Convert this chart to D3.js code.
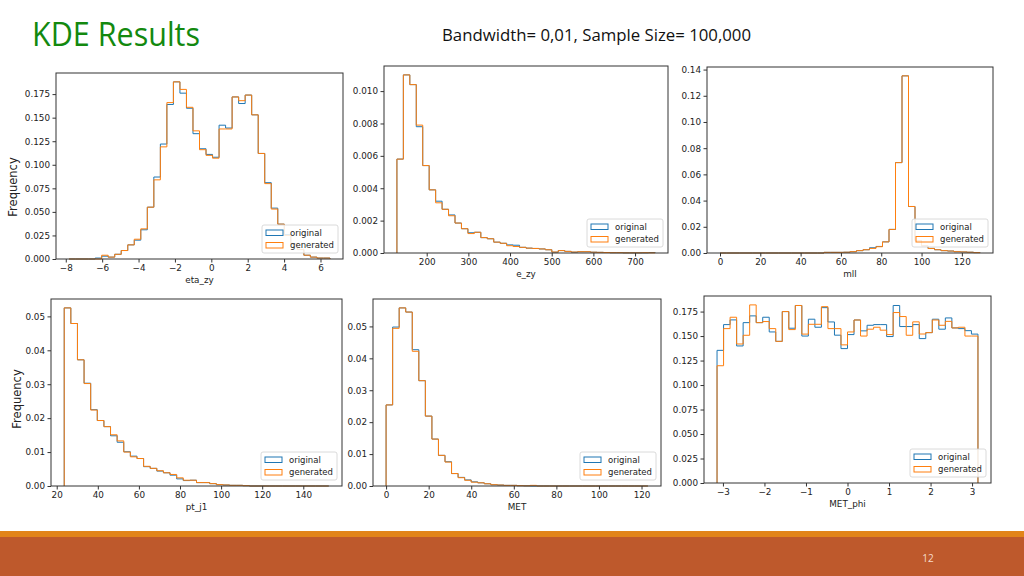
<!DOCTYPE html>
<html>
<head>
  <meta charset="utf-8">
  <title>KDE Results</title>
  <script src="https://cdn.jsdelivr.net/npm/d3@7"></script>
  <style>
    body { margin: 0; background: #fff; }
    svg text { font-family: "DejaVu Sans", sans-serif; }
  </style>
</head>
<body>
<div id="slide"></div>
<script>
// slide texts
var titleText = "KDE Results";
var subtitleText = "Bandwidth= 0,01, Sample Size= 100,000";
var pageNumber = "12";
var seriesNames = ["original", "generated"];
var yAxisTitle = "Frequency";

// eta_zy : 40 bins
var etaZyRange = [-7.82, 6.52];
var etaZyOriginal = [0, 0, 0, 0, 0.001, 0.003, 0.002, 0.005, 0.009, 0.015,
  0.020, 0.031, 0.055, 0.087, 0.122, 0.164, 0.188, 0.176, 0.160, 0.133,
  0.117, 0.111, 0.108, 0.142, 0.139, 0.172, 0.165, 0.174, 0.153, 0.112,
  0.081, 0.054, 0.037, 0.026, 0.016, 0.010, 0.004, 0.002, 0.001, 0.001];
var etaZyGenerated = [0, 0, 0, 0, 0, 0.004, 0.002, 0.005, 0.009, 0.015,
  0.021, 0.032, 0.055, 0.084, 0.119, 0.166, 0.188, 0.180, 0.161, 0.136,
  0.116, 0.110, 0.107, 0.138, 0.138, 0.172, 0.168, 0.174, 0.153, 0.112,
  0.080, 0.053, 0.037, 0.025, 0.016, 0.010, 0.004, 0.002, 0.001, 0.001];
var etaZyXTicks = [-8, -6, -4, -2, 0, 2, 4, 6];
var etaZyYTicks = [0, 0.025, 0.05, 0.075, 0.1, 0.125, 0.15, 0.175];

// e_zy
var eZyRange = [128.5, 748.1];
var eZyOriginal = [0.0058, 0.0110, 0.0104, 0.0078, 0.0054, 0.0039, 0.0032, 0.0027, 0.00235, 0.00185,
  0.0015, 0.00125, 0.00128, 0.00095, 0.00088, 0.00067, 0.0006, 0.0005, 0.00048, 0.00035,
  0.0003, 0.00028, 0.00025, 0.0002, 0.00005, 0.00015, 0.0001, 0.00005, 0.00008, 0.00008,
  0.00005, 0.00004, 0.00003, 0.00002, 0.00002, 0.00001, 0.00001, 0.00001, 0.00001, 0.00003];
var eZyGenerated = [0.0058, 0.0110, 0.0104, 0.0079, 0.0054, 0.0039, 0.0031, 0.0027, 0.0023, 0.00185,
  0.0015, 0.0012, 0.00128, 0.00095, 0.00088, 0.00067, 0.0006, 0.00045, 0.0004, 0.00035,
  0.0003, 0.00028, 0.00025, 0.0002, 0.00006, 0.00015, 0.0001, 0.00006, 0.00008, 0.00008,
  0.00005, 0.00004, 0.00003, 0.00002, 0.00002, 0.00001, 0.00001, 0.00001, 0.00002, 0.00001];
var eZyXTicks = [200, 300, 400, 500, 600, 700];
var eZyYTicks = [0, 0.002, 0.004, 0.006, 0.008, 0.010];

// mll
var mllRange = [0, 129];
var mllOriginal = [0, 0, 0, 0, 0, 0, 0, 0, 0, 0,
  0, 0, 0, 0, 0, 0, 0.0005, 0.0005, 0.0005, 0.0006,
  0.001, 0.0018, 0.0025, 0.004, 0.005, 0.0085, 0.018, 0.069, 0.1352, 0.0355,
  0.0095, 0.0055, 0.0035, 0.0025, 0.0018, 0.0015, 0.001, 0.0008, 0.0006, 0.0003];
var mllGenerated = [0, 0, 0, 0, 0, 0, 0, 0, 0, 0,
  0, 0, 0, 0, 0, 0, 0.0005, 0.0005, 0.0005, 0.0006,
  0.001, 0.0018, 0.0025, 0.0035, 0.0048, 0.0085, 0.018, 0.069, 0.1352, 0.0355,
  0.0095, 0.0055, 0.0035, 0.0025, 0.0018, 0.0015, 0.001, 0.0008, 0.0006, 0.0003];
var mllXTicks = [0, 20, 40, 60, 80, 100, 120];
var mllYTicks = [0, 0.02, 0.04, 0.06, 0.08, 0.10, 0.12, 0.14];

// pt_j1
var ptJ1Range = [23.66, 152.4];
var ptJ1Original = [0.0525, 0.0479, 0.0372, 0.0303, 0.0225, 0.0193, 0.0175, 0.0148, 0.0129, 0.0101,
  0.0088, 0.0081, 0.0057, 0.0052, 0.0044, 0.0039, 0.0032, 0.0021, 0.0016, 0.0017,
  0.001, 0.001, 0.0007, 0.0004, 0.0003, 0.0002, 0.0002, 0.0001, 0, 0,
  0, 0, 0, 0, 0, 0, 0, 0, 0, 0];
var ptJ1Generated = [0.0525, 0.0479, 0.0372, 0.0302, 0.0224, 0.0193, 0.0175, 0.0151, 0.0133, 0.0100,
  0.0086, 0.0081, 0.0058, 0.0052, 0.0045, 0.0039, 0.0034, 0.0024, 0.0017, 0.0017,
  0.001, 0.001, 0.0007, 0.0004, 0.0003, 0.0002, 0.0002, 0.0001, 0, 0,
  0, 0, 0, 0, 0, 0, 0, 0, 0, 0];
var ptJ1XTicks = [20, 40, 60, 80, 100, 120, 140];
var ptJ1YTicks = [0, 0.01, 0.02, 0.03, 0.04, 0.05];

// MET
var metRange = [0, 123];
var metOriginal = [0.0254, 0.0498, 0.0558, 0.0545, 0.0427, 0.0330, 0.0219, 0.0147, 0.0096, 0.0076,
  0.0039, 0.0027, 0.0019, 0.0013, 0.001, 0.0007, 0.0004, 0.0003, 0.0002, 0.0002,
  0.0001, 0.00005, 0, 0, 0, 0, 0, 0, 0, 0,
  0, 0, 0, 0, 0, 0, 0, 0, 0, 0];
var metGenerated = [0.0254, 0.0494, 0.0558, 0.0545, 0.0422, 0.0330, 0.0219, 0.0147, 0.0096, 0.0075,
  0.0039, 0.0026, 0.0018, 0.0012, 0.001, 0.0007, 0.0004, 0.0003, 0.0002, 0.0002,
  0.0001, 0.00005, 0.0002, 0, 0, 0, 0, 0, 0, 0,
  0, 0, 0, 0, 0, 0, 0, 0, 0, 0];
var metXTicks = [0, 20, 40, 60, 80, 100, 120];
var metYTicks = [0, 0.01, 0.02, 0.03, 0.04, 0.05];

// MET_phi
var metPhiRange = [-3.1416, 3.1416];
var metPhiOriginal = [0.1354, 0.1617, 0.1665, 0.1399, 0.1637, 0.1706, 0.1637, 0.1692, 0.1542, 0.1446,
  0.1750, 0.1580, 0.1812, 0.1500, 0.1672, 0.1590, 0.1790, 0.1644, 0.1509, 0.1372,
  0.1515, 0.1664, 0.1553, 0.1610, 0.1617, 0.1617, 0.1495, 0.1812, 0.1597, 0.1597,
  0.1617, 0.1474, 0.1535, 0.1672, 0.1570, 0.1685, 0.1583, 0.1576, 0.1555, 0.1520];
var metPhiGenerated = [0.1197, 0.1576, 0.1692, 0.1419, 0.1508, 0.1818, 0.1637, 0.1648, 0.1576, 0.1446,
  0.1750, 0.1566, 0.1812, 0.1520, 0.1620, 0.1620, 0.1800, 0.1576, 0.1576, 0.1410,
  0.1542, 0.1664, 0.1500, 0.1570, 0.1590, 0.1560, 0.1515, 0.1740, 0.1699, 0.1508,
  0.1645, 0.1521, 0.1535, 0.1664, 0.1610, 0.1650, 0.1583, 0.1590, 0.1500, 0.1500];
var metPhiXTicks = [-3, -2, -1, 0, 1, 2, 3];
var metPhiYTicks = [0, 0.025, 0.05, 0.075, 0.1, 0.125, 0.15, 0.175];

var colors = ["#1f77b4", "#ff7f0e"];

// panel layout: [left, top, right, bottom] of each axes box
var panels = [
  {xlabel: "eta_zy", range: etaZyRange, series: [etaZyOriginal, etaZyGenerated], xTicks: etaZyXTicks, yTicks: etaZyYTicks, fmt: ".3f", box: [56, 73, 343, 259], freq: [13, 187]},
  {xlabel: "e_zy", range: eZyRange, series: [eZyOriginal, eZyGenerated], xTicks: eZyXTicks, yTicks: eZyYTicks, fmt: ".3f", box: [384, 66, 668, 253]},
  {xlabel: "mll", range: mllRange, series: [mllOriginal, mllGenerated], xTicks: mllXTicks, yTicks: mllYTicks, fmt: ".2f", box: [707, 67, 993, 253]},
  {xlabel: "pt_j1", range: ptJ1Range, series: [ptJ1Original, ptJ1Generated], xTicks: ptJ1XTicks, yTicks: ptJ1YTicks, fmt: ".2f", box: [51, 299, 342, 486], freq: [17, 399]},
  {xlabel: "MET", range: metRange, series: [metOriginal, metGenerated], xTicks: metXTicks, yTicks: metYTicks, fmt: ".2f", box: [373, 299, 661, 486]},
  {xlabel: "MET_phi", range: metPhiRange, series: [metPhiOriginal, metPhiGenerated], xTicks: metPhiXTicks, yTicks: metPhiYTicks, fmt: ".3f", box: [704, 296, 991, 483]}
];

var svg = d3.select("#slide").append("svg")
  .attr("width", 1024)
  .attr("height", 576);

svg.append("rect").attr("width", 1024).attr("height", 576).attr("fill", "#fff");

// header
svg.append("text")
  .attr("x", 32).attr("y", 46)
  .attr("textLength", 168).attr("lengthAdjust", "spacingAndGlyphs")
  .style("font-family", "'Open Sans', sans-serif")
  .style("font-size", "32px")
  .attr("fill", "#13890f")
  .text(titleText);

svg.append("text")
  .attr("x", 442).attr("y", 41)
  .attr("textLength", 309).attr("lengthAdjust", "spacingAndGlyphs")
  .style("font-family", "'Open Sans', sans-serif")
  .style("font-size", "15.5px")
  .attr("fill", "#111")
  .text(subtitleText);

// footer
svg.append("rect").attr("x", 0).attr("y", 531).attr("width", 1024).attr("height", 6).attr("fill", "#e2841a");
svg.append("rect").attr("x", 0).attr("y", 537).attr("width", 1024).attr("height", 39).attr("fill", "#be592c");
svg.append("text")
  .attr("x", 928).attr("y", 562)
  .attr("text-anchor", "middle")
  .style("font-family", "'Open Sans', sans-serif")
  .style("font-size", "10px")
  .attr("fill", "#f7dccb")
  .text(pageNumber);

panels.forEach(function(p) {
  var b = p.box;
  var lo = p.range[0], hi = p.range[1];
  var pad = (hi - lo) * 0.05;
  var nBins = p.series[0].length;
  var width = (hi - lo) / nBins;
  var edges = d3.range(nBins + 1).map(function(i) { return lo + i * width; });
  var ymax = d3.max(p.series, function(s) { return d3.max(s); }) * 1.05;

  var x = d3.scaleLinear().domain([lo - pad, hi + pad]).range([b[0], b[2]]);
  var y = d3.scaleLinear().domain([0, ymax]).range([b[3], b[1]]);

  var g = svg.append("g");

  // histogram outlines (step)
  var line = d3.line().x(function(d) { return x(d[0]); }).y(function(d) { return y(d[1]); });
  p.series.forEach(function(vals, k) {
    var pts = [[edges[0], 0]];
    vals.forEach(function(v, i) {
      pts.push([edges[i], v]);
      pts.push([edges[i + 1], v]);
    });
    pts.push([edges[nBins], 0]);
    g.append("path")
      .attr("d", line(pts))
      .attr("fill", "none")
      .attr("stroke", colors[k])
      .attr("stroke-width", 1);
  });

  // axes
  var xa = g.append("g")
    .attr("transform", "translate(0," + b[3] + ")")
    .call(d3.axisBottom(x).tickValues(p.xTicks).tickFormat(d3.format("d")).tickSize(3.5).tickPadding(2.5));
  var ya = g.append("g")
    .attr("transform", "translate(" + b[0] + ",0)")
    .call(d3.axisLeft(y).tickValues(p.yTicks).tickFormat(d3.format(p.fmt)).tickSize(3.5).tickPadding(2.5));
  [xa, ya].forEach(function(a) {
    a.select(".domain").remove();
    a.selectAll("line").attr("stroke", "#333");
    a.selectAll("text")
      .style("font-family", "'DejaVu Sans', sans-serif")
      .style("font-size", "8.8px")
      .attr("fill", "#222");
  });

  // frame
  g.append("rect")
    .attr("x", b[0]).attr("y", b[1])
    .attr("width", b[2] - b[0]).attr("height", b[3] - b[1])
    .attr("fill", "none").attr("stroke", "#333").attr("stroke-width", 1);

  // x label
  g.append("text")
    .attr("x", (b[0] + b[2]) / 2).attr("y", b[3] + 24)
    .attr("text-anchor", "middle")
    .style("font-size", "8.8px")
    .attr("fill", "#222")
    .text(p.xlabel);

  if (p.freq) {
    g.append("text")
      .attr("transform", "translate(" + p.freq[0] + "," + p.freq[1] + ") rotate(-90)")
      .attr("text-anchor", "middle")
      .attr("dy", "0.35em")
      .style("font-size", "11.5px")
      .attr("fill", "#222")
      .text(yAxisTitle);
  }

  // legend
  var lw = 76, lh = 28;
  var lx = b[2] - 5 - lw, ly = b[3] - 6 - lh;
  var leg = g.append("g").attr("transform", "translate(" + lx + "," + ly + ")");
  leg.append("rect")
    .attr("width", lw).attr("height", lh).attr("rx", 2)
    .attr("fill", "#fff").attr("fill-opacity", 0.85)
    .attr("stroke", "#d0d0d0").attr("stroke-width", 0.8);
  seriesNames.forEach(function(name, k) {
    var ry = 5 + k * 12.5;
    leg.append("rect")
      .attr("x", 4).attr("y", ry)
      .attr("width", 17).attr("height", 5.5)
      .attr("fill", "none").attr("stroke", colors[k]).attr("stroke-width", 1);
    leg.append("text")
      .attr("x", 28).attr("y", ry + 2.75)
      .attr("dy", "0.35em")
      .style("font-size", "8.5px")
      .attr("fill", "#222")
      .text(name);
  });
});
</script>
</body>
</html>
